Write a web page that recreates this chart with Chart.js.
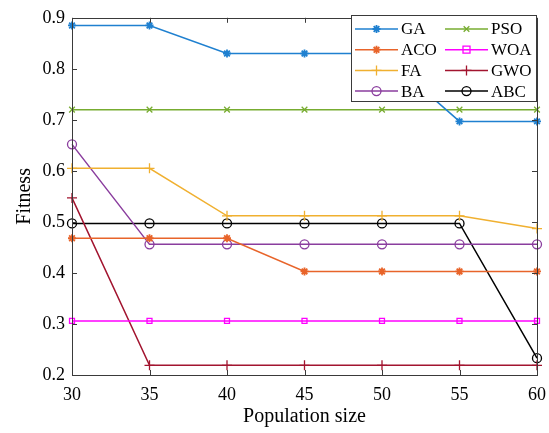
<!DOCTYPE html>
<html>
<head>
<meta charset="utf-8">
<script src="https://cdn.jsdelivr.net/npm/chart.js@4.4.0/dist/chart.umd.min.js"></script>
<style>
  html, body { margin: 0; padding: 0; background: #fff; }
  #wrap { width: 549px; height: 433px; }
</style>
</head>
<body>
<div id="wrap"><canvas id="fitness-chart"></canvas></div>
<script>
// population sizes on the x axis
var popSizes = [30, 35, 40, 45, 50, 55, 60];

// fitness per algorithm
var gaFit  = [0.885, 0.885, 0.830, 0.830, 0.830, 0.697, 0.697];
var acoFit = [0.468, 0.468, 0.468, 0.403, 0.403, 0.403, 0.403];
var faFit  = [0.605, 0.605, 0.512, 0.512, 0.512, 0.512, 0.487];
var baFit  = [0.652, 0.456, 0.456, 0.456, 0.456, 0.456, 0.456];
var psoFit = [0.720, 0.720, 0.720, 0.720, 0.720, 0.720, 0.720];
var woaFit = [0.306, 0.306, 0.306, 0.306, 0.306, 0.306, 0.306];
var gwoFit = [0.547, 0.219, 0.219, 0.219, 0.219, 0.219, 0.219];
var abcFit = [0.497, 0.497, 0.497, 0.497, 0.497, 0.497, 0.233];

var axisColor = "#3a3a3a";
var serif = "'Liberation Serif', 'Times New Roman', serif";

function series(label, data, color, style, radius) {
  return {
    label: label,
    data: data,
    borderColor: color,
    backgroundColor: "rgba(0,0,0,0)",
    borderWidth: 1.5,
    tension: 0,
    pointStyle: style,
    pointRadius: radius,
    pointBorderWidth: style === "star" ? 1.8 : 1.3,
    pointBorderColor: color,
    pointBackgroundColor: "rgba(0,0,0,0)",
    clip: false,
  };
}

// small marker painter for the legend box
function drawMarker(ctx, style, x, y, r, color) {
  ctx.save();
  ctx.strokeStyle = color;
  ctx.lineWidth = style === "star" ? 1.8 : 1.3;
  ctx.beginPath();
  if (style === "circle") {
    ctx.arc(x, y, r, 0, Math.PI * 2);
  } else if (style === "rect") {
    ctx.rect(x - r, y - r, 2 * r, 2 * r);
  } else {
    if (style === "cross" || style === "star") {
      ctx.moveTo(x - r, y); ctx.lineTo(x + r, y);
      ctx.moveTo(x, y - r); ctx.lineTo(x, y + r);
    }
    if (style === "crossRot" || style === "star") {
      var d = r * 0.7071;
      ctx.moveTo(x - d, y - d); ctx.lineTo(x + d, y + d);
      ctx.moveTo(x - d, y + d); ctx.lineTo(x + d, y - d);
    }
  }
  ctx.stroke();
  ctx.restore();
}

// box frame with inward ticks on all four sides, plus the legend inside the plot
var frameAndLegend = {
  id: "frameAndLegend",
  afterDraw: function (chart) {
    var ctx = chart.ctx;
    var a = chart.chartArea;
    var xs = chart.scales.x, ys = chart.scales.y;
    ctx.save();
    ctx.strokeStyle = axisColor;
    ctx.lineWidth = 1;
    ctx.strokeRect(Math.round(a.left) + 0.5, Math.round(a.top) + 0.5,
      Math.round(a.right - a.left), Math.round(a.bottom - a.top));
    ctx.beginPath();
    for (var i = 0; i < popSizes.length; i++) {
      var px = Math.round(xs.getPixelForValue(i)) + 0.5;
      ctx.moveTo(px, a.bottom); ctx.lineTo(px, a.bottom - 5);
      ctx.moveTo(px, a.top); ctx.lineTo(px, a.top + 5);
    }
    ys.ticks.forEach(function (t) {
      var py = Math.round(ys.getPixelForValue(t.value)) + 0.5;
      ctx.moveTo(a.left, py); ctx.lineTo(a.left + 5, py);
      ctx.moveTo(a.right, py); ctx.lineTo(a.right - 5, py);
    });
    ctx.stroke();

    // legend box
    var bx = 351, by = 15, bw = 185, bh = 86;
    ctx.fillStyle = "#fff";
    ctx.fillRect(bx, by, bw, bh);
    ctx.strokeRect(bx + 0.5, by + 0.5, bw, bh);
    ctx.font = "17px " + serif;
    ctx.textBaseline = "middle";
    ctx.textAlign = "left";
    chart.data.datasets.forEach(function (ds, k) {
      var col = k < 4 ? 0 : 1;
      var row = k % 4;
      var x0 = bx + 4 + col * 90;
      var y0 = by + 14 + row * 20.7;
      ctx.strokeStyle = ds.borderColor;
      ctx.lineWidth = 1.5;
      ctx.beginPath();
      ctx.moveTo(x0, y0); ctx.lineTo(x0 + 43, y0);
      ctx.stroke();
      drawMarker(ctx, ds.pointStyle, x0 + 21.5, y0, ds.pointRadius, ds.borderColor);
      ctx.fillStyle = "#000";
      ctx.fillText(ds.label, x0 + 46, y0 + 1);
    });
    ctx.restore();
  },
};

var ctx1 = document.getElementById("fitness-chart").getContext("2d");

new Chart(ctx1, {
  type: "line",
  data: {
    labels: popSizes,
    datasets: [
      series("GA", gaFit, "#1f80d0", "star", 4),
      series("ACO", acoFit, "#e8642a", "star", 4),
      series("FA", faFit, "#f0b030", "cross", 5),
      series("BA", baFit, "#8a3d9e", "circle", 4.5),
      series("PSO", psoFit, "#77ac30", "crossRot", 4),
      series("WOA", woaFit, "#ff00ff", "rect", 3.5),
      series("GWO", gwoFit, "#a2142f", "cross", 5),
      series("ABC", abcFit, "#000000", "circle", 4.5),
    ],
  },
  options: {
    responsive: true,
    maintainAspectRatio: false,
    animation: false,
    layout: { padding: { top: 14, right: 12, left: 0, bottom: 0 } },
    plugins: {
      legend: { display: false },
      tooltip: { enabled: false },
    },
    scales: {
      x: {
        type: "category",
        offset: false,
        grid: { display: false, drawTicks: false },
        border: { display: false },
        ticks: {
          color: "#000",
          padding: 9,
          maxRotation: 0,
          font: { size: 18, family: serif },
        },
        title: {
          display: true,
          text: "Population size",
          color: "#000",
          font: { size: 20, family: serif },
          padding: { top: 0, bottom: 4 },
        },
        afterFit: function (scale) {
          scale.height = 58;
          scale.paddingLeft = 0;
          scale.paddingRight = 0;
        },
      },
      y: {
        min: 0.2,
        max: 0.9,
        grid: { display: false, drawTicks: false },
        border: { display: false },
        ticks: {
          stepSize: 0.1,
          color: "#000",
          padding: 7,
          font: { size: 18, family: serif },
          callback: function (v) { return v.toFixed(1); },
        },
        title: {
          display: true,
          text: "Fitness",
          color: "#000",
          font: { size: 20, family: serif },
          padding: { top: 13, bottom: 0 },
        },
        afterFit: function (scale) { scale.width = 72; },
      },
    },
  },
  plugins: [frameAndLegend],
});
</script>
</body>
</html>
